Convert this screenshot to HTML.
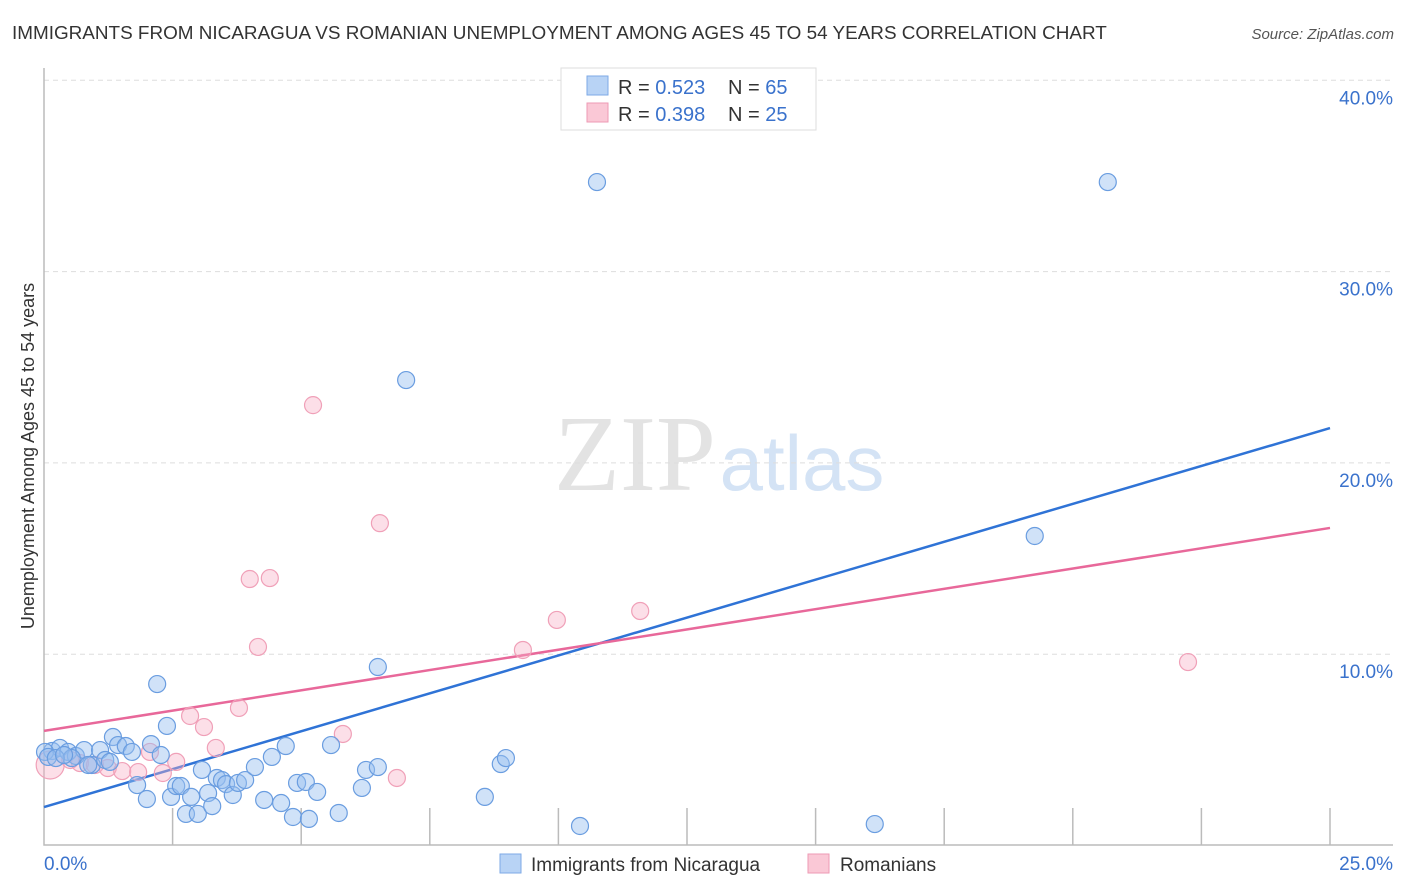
<!DOCTYPE html>
<html><head><meta charset="utf-8"><style>
body{margin:0;background:#fff;font-family:"Liberation Sans",sans-serif;}
svg{display:block}
</style></head><body>
<svg id="chart" width="1406" height="892" xmlns="http://www.w3.org/2000/svg">
<text x="12" y="39" font-size="18.9" fill="#333">IMMIGRANTS FROM NICARAGUA VS ROMANIAN UNEMPLOYMENT AMONG AGES 45 TO 54 YEARS CORRELATION CHART</text>
<text x="1394" y="39" font-size="15" fill="#555" font-style="italic" text-anchor="end">Source: ZipAtlas.com</text>
<text x="635" y="490" font-size="108" fill="#e3e3e3" font-family="Liberation Serif,serif" text-anchor="middle">ZIP</text>
<text x="802" y="490" font-size="78" fill="#d4e3f5" text-anchor="middle">atlas</text>
<g id="grid"></g><g id="axes"></g><g id="lines"></g><g id="pts"></g>
<text transform="translate(34,456) rotate(-90)" font-size="18" fill="#333" text-anchor="middle">Unemployment Among Ages 45 to 54 years</text>
<g>
<rect x="561" y="68" width="255" height="62" fill="#fff" stroke="#ddd"/>
<rect x="587" y="76" width="21" height="19" fill="#b8d3f5" stroke="#7eaae6"/>
<rect x="587" y="103" width="21" height="19" fill="#fac8d6" stroke="#ee9ab4"/>
<text x="618" y="94" font-size="20" fill="#333">R = <tspan fill="#3a72cc">0.523</tspan></text>
<text x="728" y="94" font-size="20" fill="#333">N = <tspan fill="#3a72cc">65</tspan></text>
<text x="618" y="121" font-size="20" fill="#333">R = <tspan fill="#3a72cc">0.398</tspan></text>
<text x="728" y="121" font-size="20" fill="#333">N = <tspan fill="#3a72cc">25</tspan></text>
</g>
<g>
<rect x="500" y="854" width="21" height="19" fill="#b8d3f5" stroke="#7eaae6"/>
<text x="531" y="871" font-size="19" fill="#333">Immigrants from Nicaragua</text>
<rect x="808" y="854" width="21" height="19" fill="#fac8d6" stroke="#ee9ab4"/>
<text x="840" y="871" font-size="19" fill="#333">Romanians</text>
</g>
</svg>
<script>
const blueX=[0.16,0.31,0.47,0.62,0.78,0.93,1.09,1.19,1.34,1.44,1.59,1.71,1.81,2.00,2.08,2.20,2.27,2.39,2.47,2.57,2.66,2.76,2.86,2.99,3.07,3.19,3.27,3.36,3.46,3.54,3.67,3.77,3.91,4.10,4.28,4.43,4.61,4.70,4.84,4.92,5.09,5.15,5.31,5.58,5.73,6.18,6.26,6.49,6.49,7.04,8.57,8.88,8.98,10.42,10.75,16.15,19.26,20.68,0.02,0.54,0.08,0.23,0.39,0.86,1.28];
const blueY=[4.94,5.10,4.89,4.68,4.99,4.21,4.99,4.47,5.67,5.25,5.20,4.89,3.16,2.43,5.30,8.44,4.73,6.25,2.54,3.11,3.11,1.65,2.54,1.65,3.95,2.74,2.06,3.53,3.42,3.21,2.64,3.27,3.42,4.10,2.38,4.63,2.22,5.20,1.49,3.27,3.32,1.39,2.80,5.25,1.70,3.01,3.95,4.10,9.33,24.33,2.54,4.26,4.57,1.02,34.68,1.12,16.18,34.68,4.89,4.57,4.63,4.57,4.73,4.21,4.37];
const pinkX=[0.12,0.51,0.70,0.99,1.24,1.52,1.83,2.06,2.31,2.57,2.84,3.11,3.34,3.79,4.00,4.16,4.39,5.23,5.81,6.53,6.86,9.31,9.97,11.59,22.24];
const pinkY=[4.21,4.47,4.31,4.21,4.05,3.89,3.84,4.89,3.79,4.37,6.77,6.19,5.10,7.19,13.93,10.38,13.98,23.02,5.83,16.85,3.53,10.22,11.79,12.26,9.59];
const blueTrend=[2.01,21.82];
const pinkTrend=[5.99,16.6];
const yTicks=[10,20,30,40];
const yTickLabels=["10.0%","20.0%","30.0%","40.0%"];
const xTicks=[0,2.5,5,7.5,10,12.5,15,17.5,20,22.5,25];
const NS="http://www.w3.org/2000/svg";
const sx=v=>44+v/25*1286, sy=v=>845.5-v*19.13;
function mk(p,t,a){const e=document.createElementNS(NS,t);for(const k in a)e.setAttribute(k,a[k]);p.appendChild(e);return e;}
const grid=document.getElementById('grid'),axes=document.getElementById('axes'),lines=document.getElementById('lines'),pts=document.getElementById('pts');
yTicks.forEach((v,i)=>{
 const l=mk(grid,'line',{x1:44,x2:1393,y1:sy(v),y2:sy(v),stroke:'#ddd','stroke-dasharray':'5,4'});
 
 
 const t=mk(axes,'text',{x:1393,y:sy(v)+24,'font-size':19,fill:'#3a72cc','text-anchor':'end'});t.textContent=yTickLabels[i];
 
 
});
const ax=mk(axes,'path',{d:'M44,68V845H1393',fill:'none',stroke:'#bbb','stroke-width':1.5});


xTicks.forEach(v=>{if(v===0)return;const t=mk(axes,'line',{x1:sx(v),x2:sx(v),y1:808,y2:845,stroke:'#bbb','stroke-width':1.5});
 
 });
const x0=mk(axes,'text',{x:44,y:870,'font-size':19,fill:'#3a72cc'});x0.textContent='0.0%';


const x1=mk(axes,'text',{x:1393,y:870,'font-size':19,fill:'#3a72cc','text-anchor':'end'});x1.textContent='25.0%';


function dots(X,Y,fill,stroke,name,big){X.forEach((x,i)=>{const c=mk(pts,'circle',{cx:sx(x),cy:sy(Y[i]),r:(big&&i===0)?14:8.5,fill:fill,stroke:stroke,'stroke-width':1.2});
 
 });}
dots(pinkX,pinkY,'rgba(248,175,198,0.4)','#f0a0b8','point-romanians',true);
dots(blueX,blueY,'rgba(150,190,240,0.45)','#6a9de0','point-nicaragua',false);
const bl=mk(lines,'line',{x1:sx(0),y1:sy(blueTrend[0]),x2:sx(25),y2:sy(blueTrend[1]),stroke:'#2f73d6','stroke-width':2.5});


const pl=mk(lines,'line',{x1:sx(0),y1:sy(pinkTrend[0]),x2:sx(25),y2:sy(pinkTrend[1]),stroke:'#e8689a','stroke-width':2.5});


</script>
</body></html>
